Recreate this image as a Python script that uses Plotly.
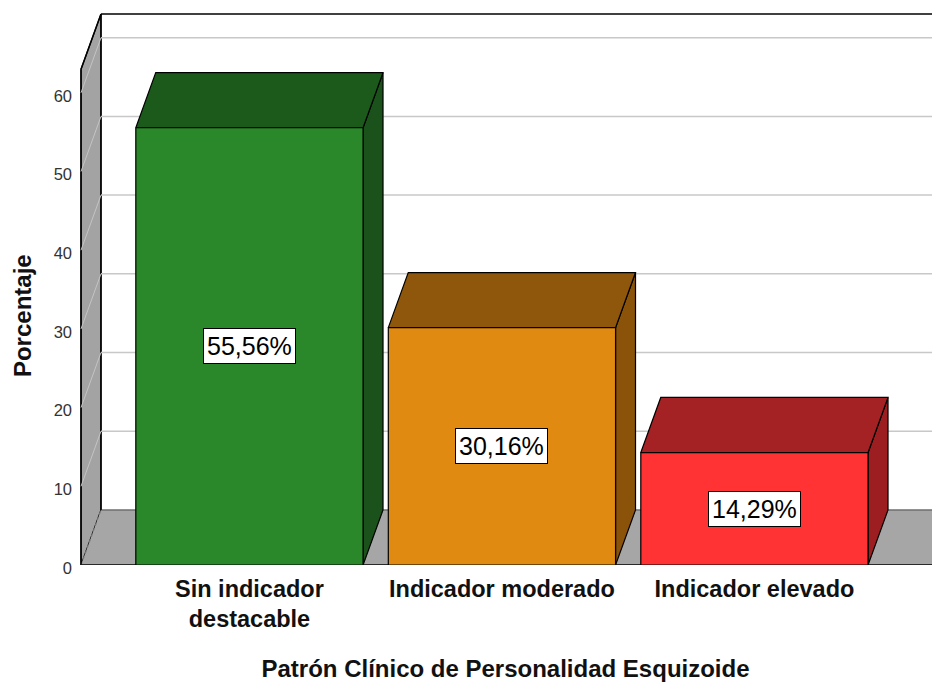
import plotly.graph_objects as go

# ---- data ----
categories = ["Sin indicador<br>destacable", "Indicador moderado", "Indicador elevado"]
percentages = [55.56, 30.16, 14.29]
value_labels = ["55,56%", "30,16%", "14,29%"]
y_ticks = [0, 10, 20, 30, 40, 50, 60]

# ---- styles ----
front_colors = ["#2A882A", "#E08A12", "#FF3333"]
top_colors = ["#1C5A1C", "#8E570B", "#A52224"]
side_colors = ["#1B511B", "#8A5309", "#9C1E20"]
FONT = "Arial, Liberation Sans, sans-serif"

X0 = -0.667          # front-left edge of the left wall (x units)
WALL_TOP = 70.0      # top of back wall (front-plane units)
DX, DY = 0.079, 7.0  # depth offset
BAR_W = 0.9
XR = [X0 - 0.008, X0 - 0.008 + 853 / 252.5]
YR = [0, 552 / 7.87]

fig = go.Figure()


def poly(xs, ys, fill, line="black", width=1.2):
    fig.add_trace(go.Scatter(x=xs + [xs[0]], y=ys + [ys[0]], mode="lines", fill="toself",
                             fillcolor=fill, line=dict(color=line, width=width),
                             hoverinfo="skip", showlegend=False))


def seg(xs, ys, color, width=1.2, dash="solid"):
    fig.add_trace(go.Scatter(x=xs, y=ys, mode="lines", line=dict(color=color, width=width, dash=dash),
                             hoverinfo="skip", showlegend=False))


XMAX = XR[1] + 0.05
# left wall
poly([X0, X0, X0 + DX, X0 + DX], [0, WALL_TOP - DY, WALL_TOP, DY], "#A3A3A3")
# floor
poly([X0, X0 + DX, XMAX, XMAX], [0, DY, DY, 0], "#A6A6A6", line="rgba(0,0,0,0)", width=0)
seg([X0, XMAX], [0, 0], "black", 1.5)
seg([X0 + DX, XMAX], [DY, DY], "#6E6E6E", 1.5)
seg([X0, X0 + DX], [0, DY], "#7A7A7A", 1.2, "dot")
# back wall edges
seg([X0 + DX, XMAX], [WALL_TOP, WALL_TOP], "black", 1.5)
seg([X0 + DX, X0 + DX], [DY, WALL_TOP], "black", 1.5)
seg([X0, X0], [0, WALL_TOP - DY], "black", 1.5)
seg([X0, X0 + DX], [WALL_TOP - DY, WALL_TOP], "black", 1.5)

# gridlines
for v in y_ticks[1:]:
    seg([X0 + DX, XMAX], [v + DY, v + DY], "#C8C8C8", 1.5)
    seg([X0, X0 + DX], [v, v + DY], "#C4C4C4", 1.0)

# bars
for i, v in enumerate(percentages):
    l, r = i - BAR_W / 2, i + BAR_W / 2
    poly([r, r + DX, r + DX, r], [0, DY, v + DY, v], side_colors[i])
    poly([l, l + DX, r + DX, r], [v, v + DY, v + DY, v], top_colors[i])
    poly([l, l, r, r], [0, v, v, 0], front_colors[i])

annotations = []
for i, v in enumerate(percentages):
    annotations.append(dict(x=i, y=v / 2, xref="x", yref="y", text=value_labels[i], showarrow=False,
                            font=dict(family=FONT, size=25, color="black"), bgcolor="white",
                            bordercolor="black", borderwidth=1, borderpad=3))
# y-axis title
annotations.append(dict(x=-0.0668, y=0.451, xref="paper", yref="paper", text="<b>Porcentaje</b>",
                        textangle=-90, showarrow=False, xanchor="center", yanchor="middle",
                        font=dict(family=FONT, size=24, color="#111111")))

fig.update_layout(
    width=932, height=685,
    margin=dict(l=79, r=0, t=13, b=120, autoexpand=False),
    paper_bgcolor="white", plot_bgcolor="white",
    font=dict(family=FONT),
    annotations=annotations,
    xaxis=dict(range=XR, tickvals=list(range(len(categories))),
               ticktext=["<b>%s</b>" % c for c in categories], automargin=False,
               showgrid=False, zeroline=False, showline=False, ticks="", ticklabelstandoff=7,
               tickfont=dict(family=FONT, size=23.5, color="#111111"),
               title=dict(text="<b>Patrón Clínico de Personalidad Esquizoide</b>",
                          font=dict(family=FONT, size=24, color="#111111"), standoff=29)),
    yaxis=dict(range=YR, tickvals=y_ticks, showgrid=False, zeroline=False, showline=False,
               automargin=False, ticklabelshift=3,
               ticks="", ticklabelstandoff=6, tickfont=dict(family=FONT, size=16.5, color="#333333")),
)

fig.write_html("out.html", config={"displayModeBar": False},
               post_script="document.body.style.margin='0';document.body.style.overflow='hidden';")
